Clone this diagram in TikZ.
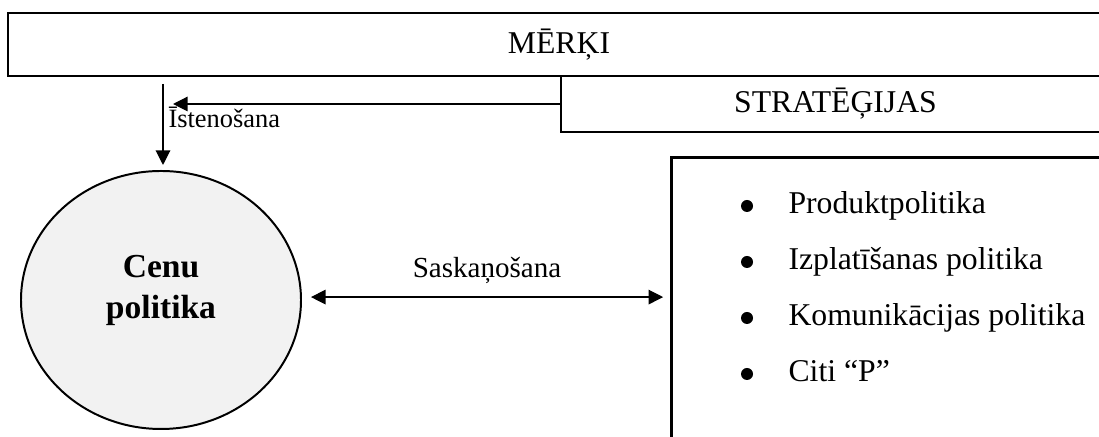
\documentclass[tikz,border=0pt]{standalone}
\usepackage{fontspec}
\setmainfont{Liberation Serif}
\usetikzlibrary{arrows.meta,positioning,shapes.geometric}
\newcommand{\pxu}{0.3785pt}

\begin{document}
\begin{tikzpicture}[
  x=\pxu, y=\pxu,
  every node/.style={font=\fontsize{12}{14}\selectfont},
  framebox/.style={draw, line width=1.1pt, inner sep=0pt},
  dotmark/.style={circle, fill, inner sep=0pt, minimum size=12*\pxu},
  arr/.style={-{Triangle[length=5.5pt,width=5.5pt]}, line width=0.45pt},
  dblarr/.style={{Triangle[length=5.5pt,width=5.5pt]}-{Triangle[length=5.5pt,width=5.5pt]}, line width=0.45pt},
]
  \useasboundingbox (0,0) rectangle (1099,437);
  \clip (0,0) rectangle (1099,437);

  % Goals and strategies (both open to the right)
  \node[framebox, minimum width=1102*\pxu, minimum height=63*\pxu] (goals) at (559,392.5) {MĒRĶI};
  \node[framebox, minimum width=549*\pxu, minimum height=56*\pxu] (strat) at (835.5,333) {STRATĒĢIJAS};

  % Price policy
  \node[ellipse, draw, line width=0.75pt, fill=gray!10, minimum width=280*\pxu, minimum height=258*\pxu, inner sep=0pt] (cenu) at (161,137) {};
  \node[font=\fontsize{12.7}{15.5}\selectfont\bfseries, align=center] (cenutxt) at (161,147) {Cenu\\politika};

  % Other policies of the mix
  \node[framebox, minimum width=440*\pxu, minimum height=300*\pxu, anchor=north west] (mix) at (670,281) {};
  \foreach \t [count=\i] in {Produktpolitika, Izplatīšanas politika, Komunikācijas politika, Citi “P”}{
    \node[dotmark] (dot\i) at (747,{231-56*(\i-1)}) {};
    \node[anchor=base west, inner sep=0pt] (item\i) at (788,{223-56*(\i-1)}) {\t};
  }

  % Connectors
  \coordinate (istop) at (163,353);
  \draw[arr] (istop) -- ([yshift=1.9pt]cenu.north -| istop);
  \node[anchor=base west, inner sep=0pt, font=\fontsize{10}{12}\selectfont] (istlbl) at (168,309) {Īstenošana};
  \draw[arr] (strat.west) -- ([xshift=3.8pt]strat.west -| istop);
  \draw[dblarr] ([xshift=3.4pt,yshift=1.1pt]cenu.east) --
    node[above=1.5pt, font=\fontsize{11}{13}\selectfont] (sasklbl) {Saskaņošana}
    ([xshift=-2.6pt,yshift=1.1pt]cenu.east -| mix.west);
\end{tikzpicture}
\end{document}
